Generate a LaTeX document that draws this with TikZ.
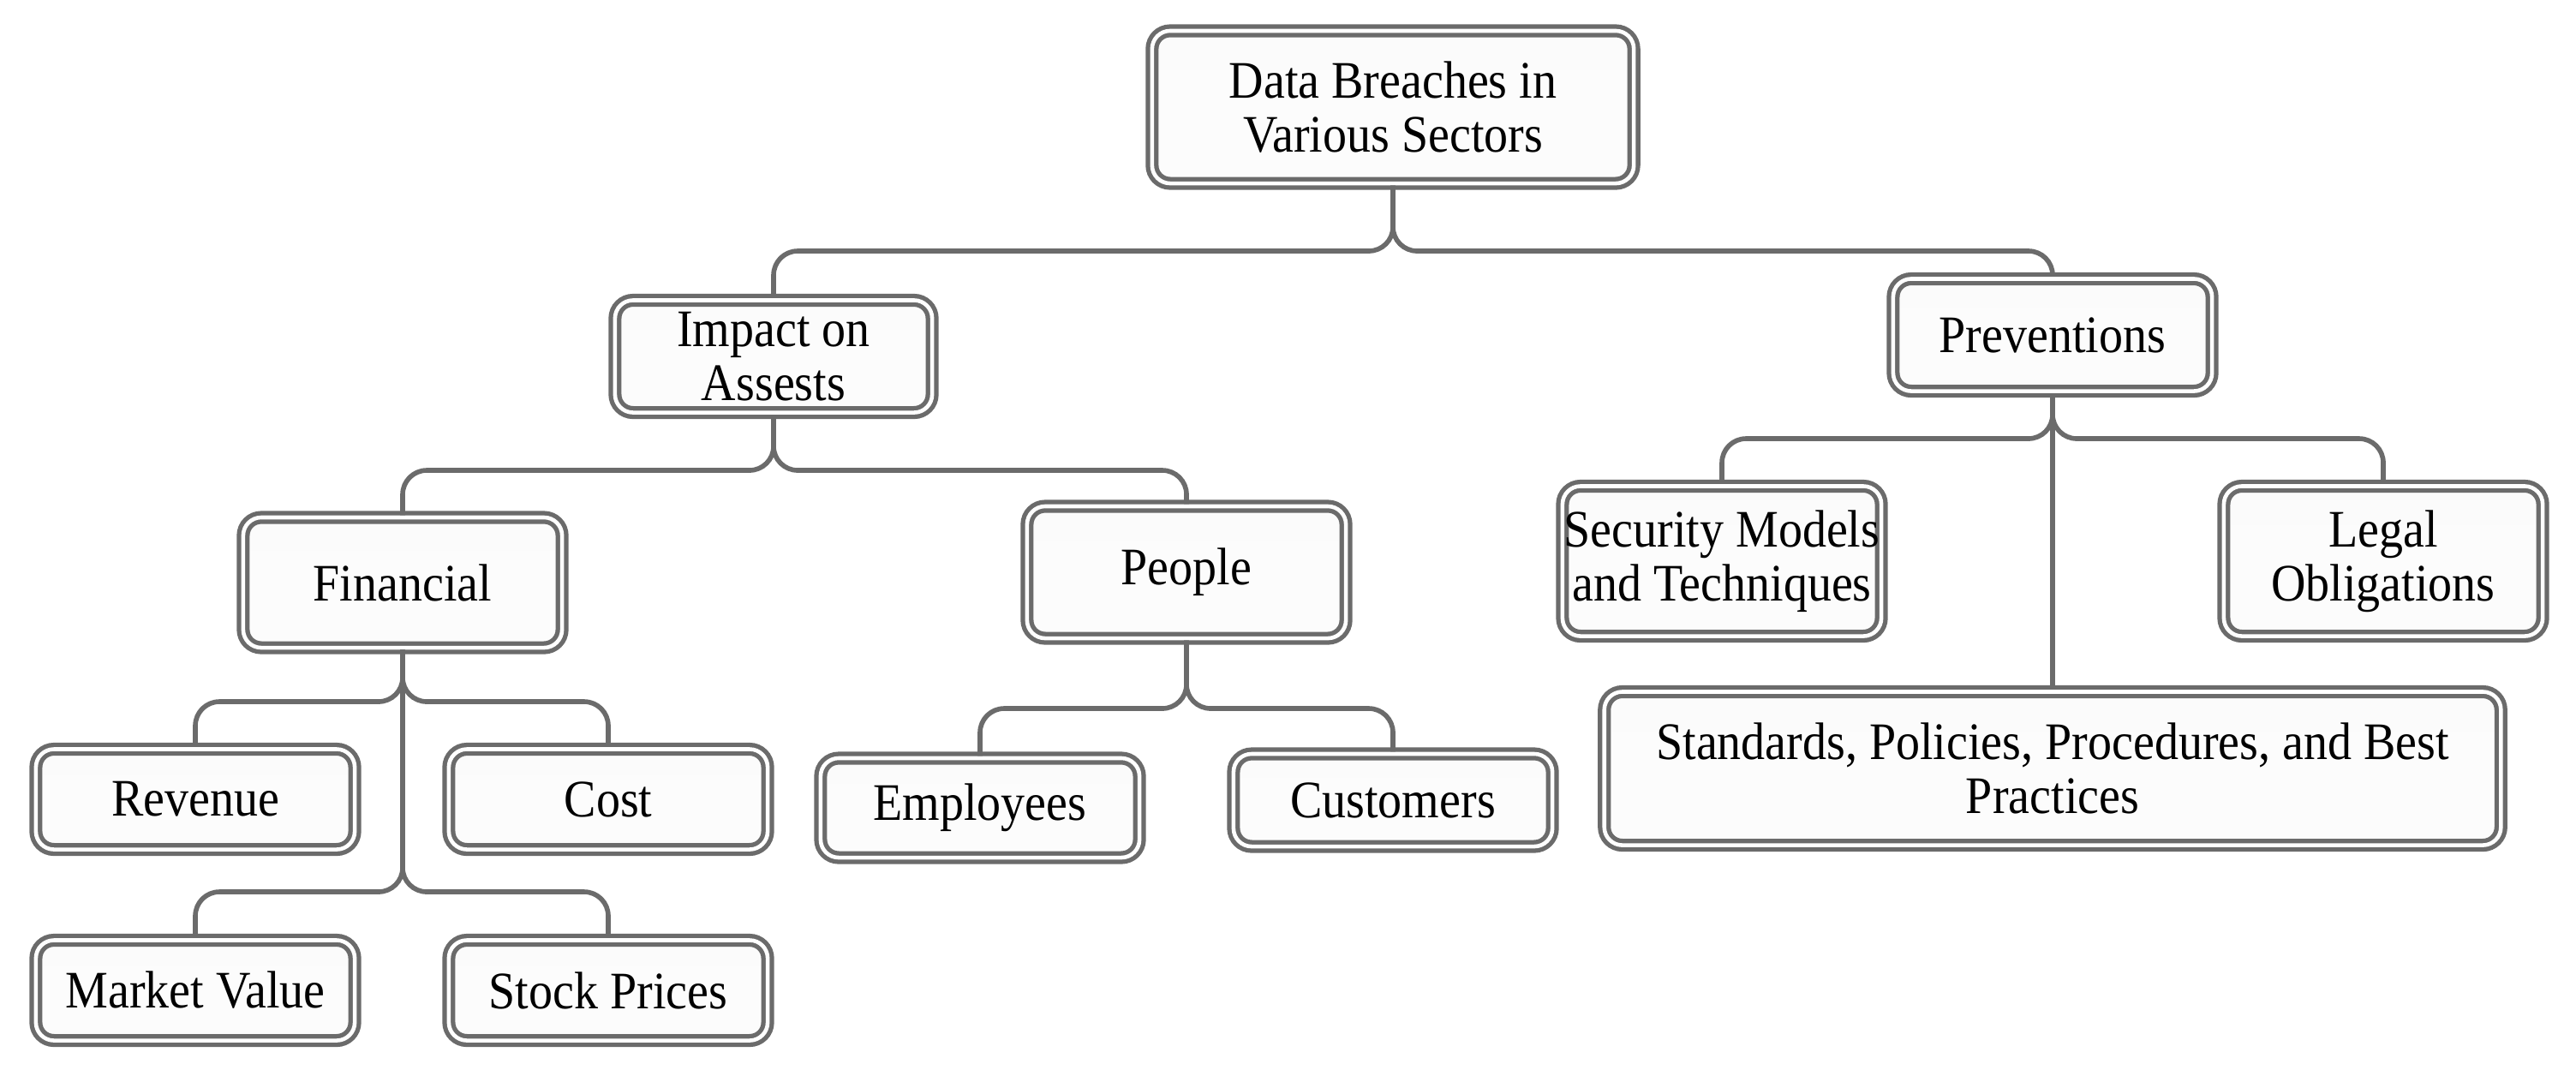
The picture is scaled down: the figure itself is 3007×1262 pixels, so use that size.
\documentclass[tikz,border=0pt]{standalone}
\usepackage{fontspec}
\setmainfont{Liberation Serif}[FakeStretch=0.91]
\usepackage{tikz}
\usetikzlibrary{arrows.meta,positioning,calc}
\usepackage{xcolor}
\definecolor{boxline}{HTML}{6B6B6B}

\tikzset{
  box/.style={draw=boxline, line width=1.5pt, double=white, double distance=1.3pt,
    rounded corners=6pt, top color=gray!3, middle color=gray!19, bottom color=gray!2,
    align=center, inner sep=0pt, minimum width=3.72cm,
    font=\fontsize{17.5}{17.8}\selectfont},
  link/.style={draw=boxline, line width=1.6pt, rounded corners=8pt}
}

\begin{document}
\begin{tikzpicture}[x=0.01cm, y=-0.01cm]
    \useasboundingbox (0,0) rectangle (3007,1262);

    % 根节点
    \node[box, minimum width=5.62cm, minimum height=1.78cm] (root) at (1626,125) {Data Breaches in\\Various Sectors};

    % 第二层
    \node[box, minimum width=3.70cm, minimum height=1.31cm] (imp) at (903,416) {Impact on\\Assests};
    \node[box, minimum height=1.31cm] (prev) at (2396,391) {Preventions};

    % 资产影响
    \node[box, minimum height=1.52cm] (fin) at (470,680) {Financial};
    \node[box, minimum height=1.54cm] (ppl) at (1385,668) {People};
    \node[box, minimum height=1.17cm] (rev) at (228,933) {Revenue};
    \node[box, minimum height=1.17cm] (cost) at (710,933) {Cost};
    \node[box, minimum height=1.17cm] (mkt) at (228,1156) {Market Value};
    \node[box, minimum height=1.17cm] (stock) at (710,1156) {Stock Prices};
    \node[box, minimum height=1.16cm] (emp) at (1144,943) {Employees};
    \node[box, minimum height=1.08cm] (cust) at (1626,934) {Customers};

    % 预防措施
    \node[box, minimum height=1.75cm] (sec) at (2010,655) {Security Models\\and Techniques};
    \node[box, minimum height=1.75cm] (legal) at (2782,655) {Legal\\Obligations};
    \node[box, minimum width=10.46cm, minimum height=1.79cm] (std) at (2396,897) {Standards, Policies, Procedures, and Best\\Practices};

    % 分支点
    \coordinate (rootbus) at (1626,293);
    \coordinate (impbus) at (903,549);
    \coordinate (finbusA) at (470,819);
    \coordinate (finbusB) at (470,1041);
    \coordinate (pplbus) at (1385,827);
    \coordinate (prevbus) at (2396,512);

    % 连线
    \foreach \c in {imp, prev}
        \draw[link] (root.south) -- (rootbus) -| (\c.north);
    \foreach \c in {fin, ppl}
        \draw[link] (imp.south) -- (impbus) -| (\c.north);
    \foreach \c in {rev, cost}
        \draw[link] (fin.south) -- (finbusA) -| (\c.north);
    \foreach \c in {mkt, stock}
        \draw[link] (fin.south) -- (finbusB) -| (\c.north);
    \foreach \c in {emp, cust}
        \draw[link] (ppl.south) -- (pplbus) -| (\c.north);
    \foreach \c in {sec, legal}
        \draw[link] (prev.south) -- (prevbus) -| (\c.north);
    \draw[link] (prev.south) -- (std.north);
\end{tikzpicture}
\end{document}
